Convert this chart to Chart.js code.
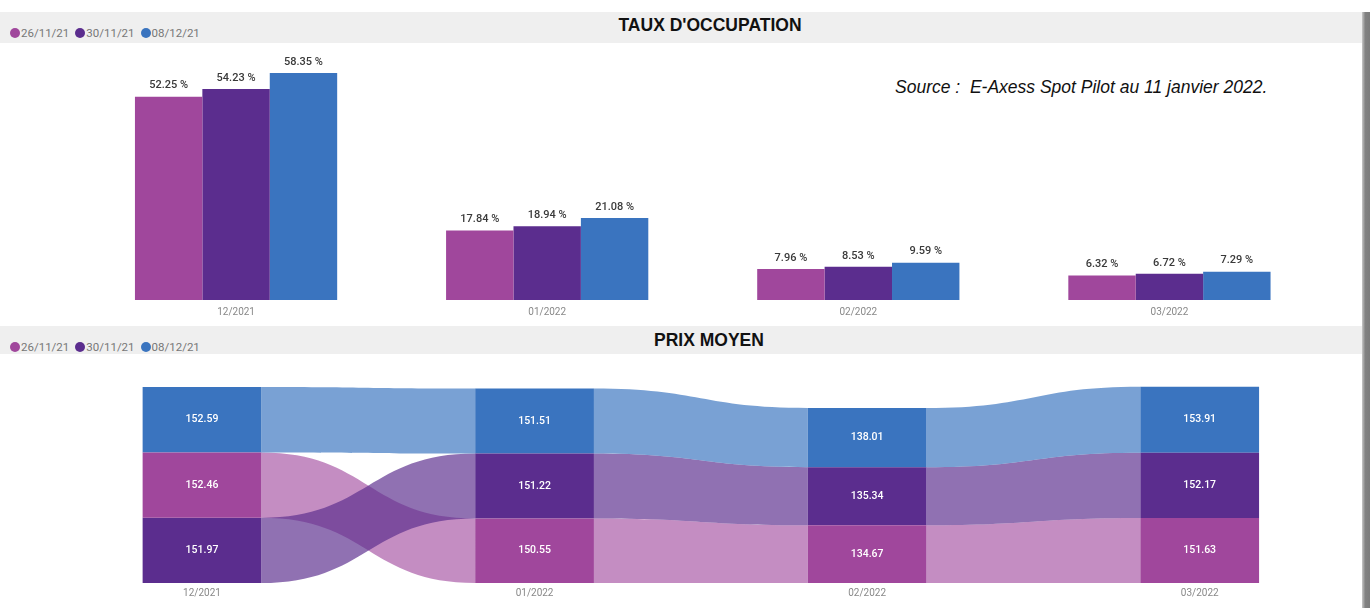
<!DOCTYPE html>
<html>
<head>
<meta charset="utf-8">
<script src="https://cdn.jsdelivr.net/npm/chart.js@4/dist/chart.umd.min.js"></script>
<style>
  body { margin: 0; background: #fff; width: 1370px; height: 608px; overflow: hidden; position: relative; font-family: "Liberation Sans", Arial, sans-serif; }
  .band { position: absolute; left: 0; width: 1362px; background: #efefef; }
  .title { position: absolute; transform: translateX(-50%); font-weight: bold; color: #111; white-space: nowrap; font-size: 17.5px; }
  .legend { position: absolute; left: 10px; font-family: Roboto, sans-serif; font-size: 11.5px; color: #777; white-space: nowrap; }
  .legend span.dot { display: inline-block; width: 10px; height: 10px; border-radius: 50%; margin: 0 1px 0 0; vertical-align: -1px; }
  .legend span.lbl { margin-right: 6px; }
  .source { position: absolute; left: 895px; top: 77px; font-style: italic; font-size: 17.5px; color: #111; white-space: nowrap; }
  .edge { position: absolute; left: 1362px; top: 12px; width: 8px; height: 596px; background: linear-gradient(to right, #c8c8c8, #828282 40%, #7c7c7c); z-index: 5; }
  canvas { position: absolute; left: 0; }
</style>
</head>
<body>
<div class="band" style="top:12px;height:31px"></div>
<div class="title" style="left:710px;top:15px">TAUX D'OCCUPATION</div>
<div class="legend" id="leg1" style="top:26px"></div>

<div class="band" style="top:326px;height:28px"></div>
<div class="title" style="left:709px;top:330px">PRIX MOYEN</div>
<div class="legend" id="leg2" style="top:340px"></div>

<div class="source">Source :&nbsp; E-Axess Spot Pilot au 11 janvier 2022.</div>
<div class="edge"></div>

<div style="position:absolute;left:0;top:45px;width:1360px;height:280px"><canvas id="occ"></canvas></div>
<div style="position:absolute;left:0;top:370px;width:1370px;height:238px"><canvas id="prix"></canvas></div>

<script>
// months on the x axis, snapshot dates as series
const months = ['12/2021', '01/2022', '02/2022', '03/2022'];
const snapshots = ['26/11/21', '30/11/21', '08/12/21'];

// occupancy rate (%)
const occ2611 = [52.25, 17.84, 7.96, 6.32];
const occ3011 = [54.23, 18.94, 8.53, 6.72];
const occ0812 = [58.35, 21.08, 9.59, 7.29];

// average price
const prix2611 = [152.46, 150.55, 134.67, 151.63];
const prix3011 = [151.97, 151.22, 135.34, 152.17];
const prix0812 = [152.59, 151.51, 138.01, 153.91];

const colors = ['#a0479c', '#5b2d8e', '#3a74bf'];
const ribbonColors = ['rgba(160,71,156,0.62)', 'rgba(91,45,142,0.68)', 'rgba(58,116,191,0.68)'];

// html legends
['leg1', 'leg2'].forEach(function (id) {
  var el = document.getElementById(id);
  snapshots.forEach(function (s, i) {
    el.innerHTML += '<span class="dot" style="background:' + colors[i] + '"></span><span class="lbl">' + s + '</span>';
  });
});

const tickFont = { family: 'Roboto', size: 10 };

// value labels above the bars
const occLabels = {
  id: 'occLabels',
  afterDatasetsDraw: function (chart) {
    const ctx = chart.ctx;
    ctx.save();
    ctx.font = '500 11px Roboto';
    ctx.fillStyle = '#3a3a3a';
    ctx.textAlign = 'center';
    ctx.textBaseline = 'middle';
    chart.data.datasets.forEach(function (ds, i) {
      chart.getDatasetMeta(i).data.forEach(function (bar, j) {
        ctx.fillText(ds.data[j].toFixed(2) + ' %', bar.x, bar.y - 11);
      });
    });
    ctx.restore();
  }
};

new Chart(document.getElementById('occ'), {
  type: 'bar',
  data: {
    labels: months,
    datasets: [occ2611, occ3011, occ0812].map(function (d, i) {
      return { label: snapshots[i], data: d, backgroundColor: colors[i], borderWidth: 0,
               categoryPercentage: 0.65, barPercentage: 1.0 };
    })
  },
  options: {
    responsive: true,
    maintainAspectRatio: false,
    animation: false,
    layout: { padding: { left: 80.5, right: 35, top: 21.6, bottom: 0 } },
    plugins: { legend: { display: false }, tooltip: { enabled: false } },
    scales: {
      x: {
        grid: { display: false, drawTicks: false }, border: { display: false },
        ticks: { color: '#888', font: tickFont, padding: 6 },
        afterFit: function (s) { s.height = 25; }
      },
      y: { display: false, min: 0, max: 60 }
    }
  },
  plugins: [occLabels]
});

// ribbon chart: per month the series are stacked by value, largest on top
const prixSeries = [prix2611, prix3011, prix0812];
const ranges = prixSeries.map(function () { return []; });
months.forEach(function (m, j) {
  const order = [0, 1, 2].sort(function (a, b) { return prixSeries[a][j] - prixSeries[b][j]; });
  let base = 0;
  order.forEach(function (s) {
    ranges[s][j] = [base, base + prixSeries[s][j]];
    base += prixSeries[s][j];
  });
});

const ribbons = {
  id: 'ribbons',
  beforeDatasetsDraw: function (chart) {
    const ctx = chart.ctx;
    ctx.save();
    chart.data.datasets.forEach(function (ds, i) {
      const bars = chart.getDatasetMeta(i).data;
      ctx.fillStyle = ribbonColors[i];
      for (let j = 0; j < bars.length - 1; j++) {
        const a = bars[j], b = bars[j + 1];
        const x0 = a.x + a.width / 2, x1 = b.x - b.width / 2, xm = (x0 + x1) / 2;
        const t0 = Math.min(a.y, a.base), b0 = Math.max(a.y, a.base);
        const t1 = Math.min(b.y, b.base), b1 = Math.max(b.y, b.base);
        ctx.beginPath();
        ctx.moveTo(x0, t0);
        ctx.bezierCurveTo(xm, t0, xm, t1, x1, t1);
        ctx.lineTo(x1, b1);
        ctx.bezierCurveTo(xm, b1, xm, b0, x0, b0);
        ctx.closePath();
        ctx.fill();
      }
    });
    ctx.restore();
  },
  afterDatasetsDraw: function (chart) {
    const ctx = chart.ctx;
    ctx.save();
    ctx.font = '500 10.5px Roboto';
    ctx.fillStyle = '#fff';
    ctx.textAlign = 'center';
    ctx.textBaseline = 'middle';
    chart.data.datasets.forEach(function (ds, i) {
      chart.getDatasetMeta(i).data.forEach(function (bar, j) {
        ctx.fillText(prixSeries[i][j].toFixed(2), bar.x, (bar.y + bar.base) / 2);
      });
    });
    ctx.restore();
  }
};

new Chart(document.getElementById('prix'), {
  type: 'bar',
  data: {
    labels: months,
    datasets: ranges.map(function (d, i) {
      return { label: snapshots[i], data: d, backgroundColor: colors[i], borderWidth: 0,
               grouped: false, categoryPercentage: 0.357, barPercentage: 1.0 };
    })
  },
  options: {
    responsive: true,
    maintainAspectRatio: false,
    animation: false,
    layout: { padding: { left: 35.7, right: 4, top: 15.7, bottom: 0 } },
    plugins: { legend: { display: false }, tooltip: { enabled: false } },
    scales: {
      x: {
        grid: { display: false, drawTicks: false }, border: { display: false },
        ticks: { color: '#888', font: tickFont, padding: 4 },
        afterFit: function (s) { s.height = 25; }
      },
      y: { display: false, min: 0, max: 460 }
    }
  },
  plugins: [ribbons]
});
</script>
</body>
</html>
